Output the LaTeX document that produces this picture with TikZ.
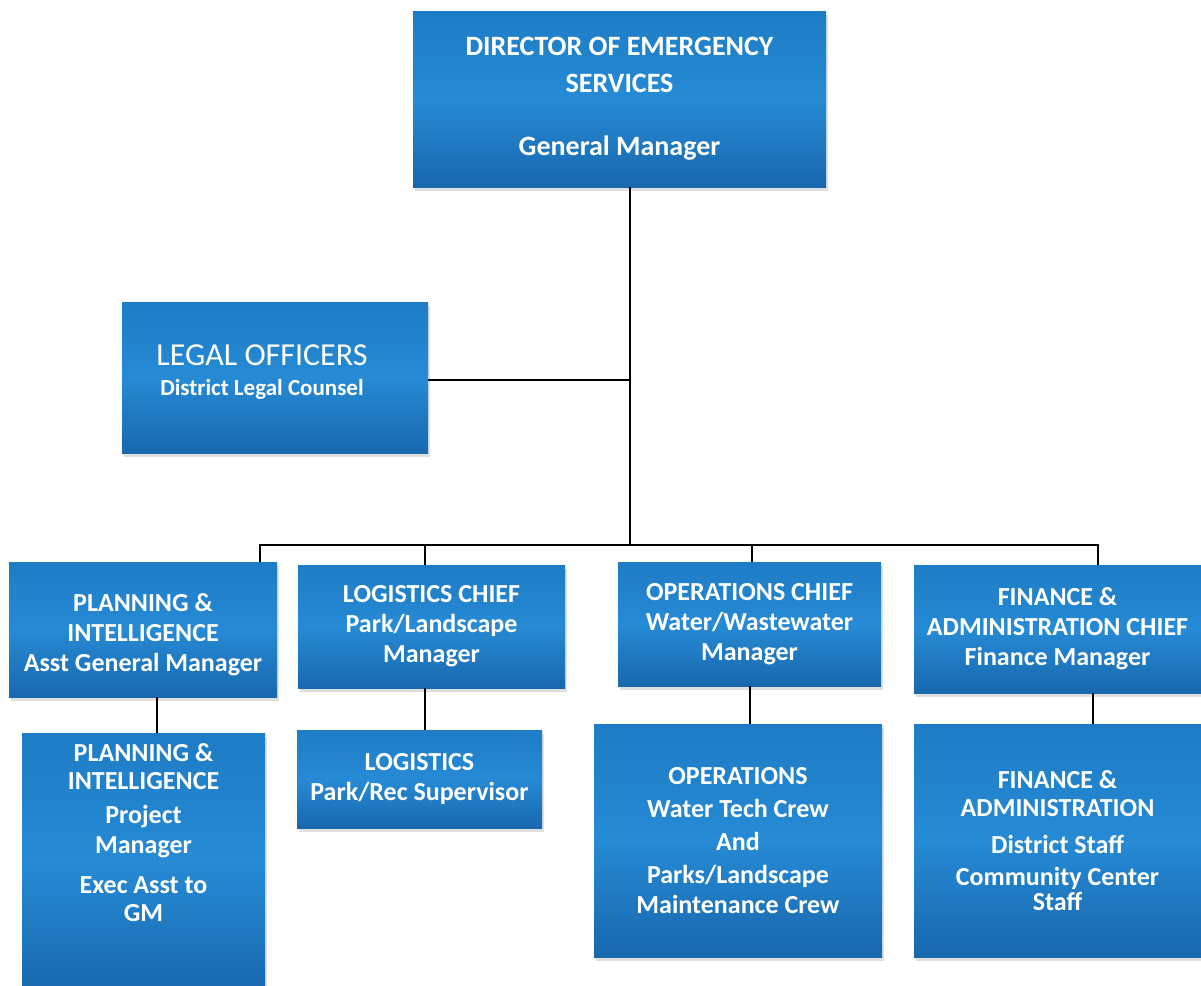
\documentclass[tikz,border=0pt]{standalone}
\usepackage{fontspec}
\setmainfont{Carlito}
\usetikzlibrary{shadows}
\definecolor{btop}{RGB}{30,124,198}
\definecolor{bmid}{RGB}{38,138,212}
\definecolor{bbot}{RGB}{24,104,174}
\tikzset{
  box/.style={rectangle, inner sep=0pt, top color=btop, bottom color=bbot, middle color=bmid,
     text=white, font=\bfseries\fontsize{26}{30}\selectfont, align=center,
     drop shadow={shadow xshift=2pt, shadow yshift=-4pt, opacity=0.25, fill=black!50}},
  txt/.style={inner sep=0pt, text=white, align=center, font=\bfseries\fontsize{26}{30}\selectfont},
  link/.style={draw=black, line width=2pt}
}
\begin{document}
\begin{tikzpicture}[x=1pt,y=-1pt]
\useasboundingbox (0,0) rectangle (1201,985);
\fill[white] (0,0) rectangle (1201,985);
% boxes
\node[box, minimum width=413, minimum height=176, font=\bfseries\fontsize{28}{37}\selectfont] (dir) at (619.5,99)
  {DIRECTOR OF EMERGENCY\\SERVICES\\[26pt]General Manager};
\node[box, minimum width=306, minimum height=151] (legal) at (275,377.5) {};
\node[txt] (legalt) at (262,372) {{\mdseries\fontsize{32}{35}\selectfont LEGAL OFFICERS}\\{\fontsize{23}{26}\selectfont District Legal Counsel}};
\node[box, minimum width=268, minimum height=135] (pi) at (143,629.5) {};
\node[txt] (pit) at (143,635) {PLANNING \&\\INTELLIGENCE\\Asst General Manager};
\node[box, minimum width=267, minimum height=123] (lo) at (431.5,626.5) {LOGISTICS CHIEF\\Park/Landscape\\Manager};
\node[box, minimum width=263, minimum height=124] (op) at (749.5,624) {OPERATIONS CHIEF\\Water/Wastewater\\Manager};
\node[box, minimum width=287, minimum height=128] (fi) at (1057.5,629) {FINANCE \&\\ADMINISTRATION CHIEF\\Finance Manager};
\node[box, minimum width=243, minimum height=260] (pis) at (143.5,863) {};
\node[txt] (pist) at (143.5,733) [anchor=north, yshift=-10pt] {PLANNING \&\\[-2pt]INTELLIGENCE\\[4pt]Project\\Manager\\[10pt]Exec Asst to\\[-2pt]GM};
\node[box, minimum width=245, minimum height=98] (los) at (419.5,779) {LOGISTICS\\Park/Rec Supervisor};
\node[box, minimum width=288, minimum height=233] (ops) at (738,840.5) {OPERATIONS\\[3pt]Water Tech Crew\\[3pt]And\\[3pt]Parks/Landscape\\Maintenance Crew};
\node[box, minimum width=287, minimum height=233] (fis) at (1057.5,840.5) {FINANCE \&\\[-2pt]ADMINISTRATION\\[7pt]District Staff\\[2pt]Community Center\\[-5pt]Staff};
% connectors
\coordinate (j) at (630,380);
\coordinate (busM) at (630,545);
\coordinate (busL) at (260,545);
\coordinate (busR) at (1098,545);
\coordinate (dLo) at (425,545);
\coordinate (dOp) at (752,545);
\draw[link] (dir.south -| busM) -- (busM);
\draw[link] (legal.east |- j) -- (j);
\draw[link, line cap=rect] (busL) -- (busR);
\draw[link] (busL) -- (busL |- pi.north);
\draw[link] (dLo) -- (dLo |- lo.north);
\draw[link] (dOp) -- (dOp |- op.north);
\draw[link] (busR) -- (busR |- fi.north);
\draw[link] ([xshift=14pt]pi.south) -- ([xshift=14pt]pi.south |- pis.north);
\draw[link] ([xshift=-6.5pt]lo.south) -- ([xshift=-6.5pt]lo.south |- los.north);
\draw[link] (op.south) -- (op.south |- ops.north);
\draw[link] ([xshift=35.5pt]fi.south) -- ([xshift=35.5pt]fi.south |- fis.north);
\end{tikzpicture}
\end{document}
